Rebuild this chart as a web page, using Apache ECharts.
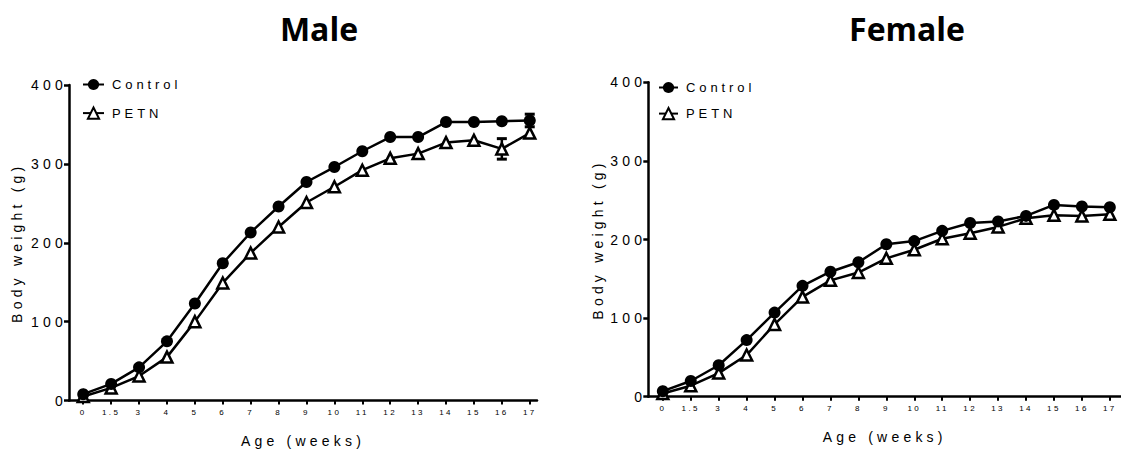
<!DOCTYPE html>
<html>
<head>
<meta charset="utf-8">
<script src="https://cdn.jsdelivr.net/npm/echarts@6/dist/echarts.min.js"></script>
<style>
  html, body { margin: 0; padding: 0; background: #fff; }
  #chart { width: 1121px; height: 455px; }
  /* GraphPad-style spaced lettering; titles stay tight */
  #chart text { letter-spacing: 0.3em; }
  #chart text[style*="bold"] { letter-spacing: 0; }
</style>
</head>
<body>
<div id="chart"></div>
<script>
// ---- data ----
const ageLabels = ['0', '1.5', '3', '4', '5', '6', '7', '8', '9', '10', '11', '12', '13', '14', '15', '16', '17'];

const maleControl   = [8, 21, 42, 75, 123, 174, 213, 246, 277, 296, 316, 334, 334, 353, 353, 354, 355];
const malePETN      = [5, 16, 31, 55, 100, 149, 187, 220, 251, 271, 292, 307, 313, 327, 330, 319, 339];
const femaleControl = [7, 20, 40, 72, 107, 141, 159, 171, 194, 198, 211, 221, 223, 230, 244, 242, 241];
const femalePETN    = [4, 14, 30, 53, 92, 127, 148, 158, 176, 187, 201, 208, 216, 227, 231, 230, 232];

// visible SEM bars: [age index, sem]
const maleControlSem = [[16, 8]];
const malePETNSem    = [[15, 13]];

const FONT = '"Liberation Sans", Arial, sans-serif';
const tickIdx = ageLabels.map((_, i) => i);

const chart = echarts.init(document.getElementById('chart'), null, { renderer: 'svg' });

function errBars(values, sems) {
  return sems.map(([i, s]) => [i, values[i] - s, values[i] + s]);
}

function renderErr(params, api) {
  const lo = api.coord([api.value(0), api.value(1)]);
  const hi = api.coord([api.value(0), api.value(2)]);
  const w = 5;
  return {
    type: 'group',
    children: [
      { type: 'line', shape: { x1: lo[0], y1: lo[1], x2: hi[0], y2: hi[1] }, style: { stroke: '#000', lineWidth: 2.5 } },
      { type: 'line', shape: { x1: lo[0] - w, y1: lo[1], x2: lo[0] + w, y2: lo[1] }, style: { stroke: '#000', lineWidth: 3 } },
      { type: 'line', shape: { x1: hi[0] - w, y1: hi[1], x2: hi[0] + w, y2: hi[1] }, style: { stroke: '#000', lineWidth: 3 } }
    ]
  };
}

function xAxis(gi, min, max) {
  return {
    type: 'value', gridIndex: gi, min: min, max: max,
    axisLine: { show: true, lineStyle: { color: '#000', width: 2.5 } },
    axisTick: { show: true, customValues: tickIdx, length: 4, lineStyle: { color: '#000', width: 2 } },
    axisLabel: { customValues: tickIdx, formatter: v => ageLabels[v], fontSize: 8, margin: 8, color: '#000', fontFamily: FONT },
    splitLine: { show: false },
    name: 'Age (weeks)', nameLocation: 'middle', nameGap: 33,
    nameTextStyle: { fontSize: 14, color: '#000', fontFamily: FONT }
  };
}

function yAxis(gi, gap) {
  return {
    type: 'value', gridIndex: gi, min: 0, max: 400, interval: 100,
    axisLine: { show: true, onZero: false, lineStyle: { color: '#000', width: 2.5 } },
    axisTick: { show: true, length: 5, lineStyle: { color: '#000', width: 2.5 } },
    axisLabel: { fontSize: 14, margin: 2, color: '#000', fontFamily: FONT },
    splitLine: { show: false },
    name: 'Body weight (g)', nameLocation: 'middle', nameGap: gap,
    nameTextStyle: { fontSize: 14, color: '#000', fontFamily: FONT }
  };
}

function lineSeries(name, gi, values) {
  const isCtrl = name === 'Control';
  return {
    name: name, type: 'line', xAxisIndex: gi, yAxisIndex: gi,
    data: values.map((v, i) => [i, v]),
    symbol: isCtrl ? 'circle' : 'triangle',
    symbolSize: isCtrl ? 12 : 11,
    lineStyle: { color: '#000', width: 2.5 },
    itemStyle: isCtrl ? { color: '#000' } : { color: '#fff', borderColor: '#000', borderWidth: 2.5 },
    emphasis: { disabled: true },
    z: 3
  };
}

function legend(left, top, gap, width) {
  return {
    data: ['Control', 'PETN'], orient: 'vertical', left: left, top: top, padding: 0,
    itemWidth: width, itemHeight: 14, itemGap: gap, selectedMode: false,
    textStyle: { fontSize: 13, color: '#000', fontFamily: FONT, padding: [0, 0, 0, 3] }
  };
}

const option = {
  animation: false,
  backgroundColor: '#fff',
  graphic: [
    { type: 'text', x: 319, y: 28, style: { text: 'Male', fontSize: 32, fontWeight: 'bold', fontFamily: '"Open Sans", sans-serif', fill: '#000', textAlign: 'center', textVerticalAlign: 'middle' } },
    { type: 'text', x: 907, y: 28, style: { text: 'Female', fontSize: 32, fontWeight: 'bold', fontFamily: '"Open Sans", sans-serif', fill: '#000', textAlign: 'center', textVerticalAlign: 'middle' } }
  ],
  legend: [legend(82, 78, 15.5, 21), legend(658, 81, 13, 19)],
  grid: [
    { left: 69, top: 85, width: 468, height: 315.5, outerBoundsMode: 'none', containLabel: false },
    { left: 648.3, top: 82.3, width: 472.7, height: 314.4, outerBoundsMode: 'none', containLabel: false }
  ],
  xAxis: [xAxis(0, -0.51, 16.26), xAxis(1, -0.52, 16.4)],
  yAxis: [yAxis(0, 45), yAxis(1, 43)],
  series: [
    { type: 'custom', xAxisIndex: 0, yAxisIndex: 0, renderItem: renderErr, data: errBars(maleControl, maleControlSem), z: 2, silent: true },
    { type: 'custom', xAxisIndex: 0, yAxisIndex: 0, renderItem: renderErr, data: errBars(malePETN, malePETNSem), z: 2, silent: true },
    lineSeries('PETN', 0, malePETN),
    lineSeries('Control', 0, maleControl),
    lineSeries('PETN', 1, femalePETN),
    lineSeries('Control', 1, femaleControl)
  ]
};

chart.setOption(option);
</script>
</body>
</html>
